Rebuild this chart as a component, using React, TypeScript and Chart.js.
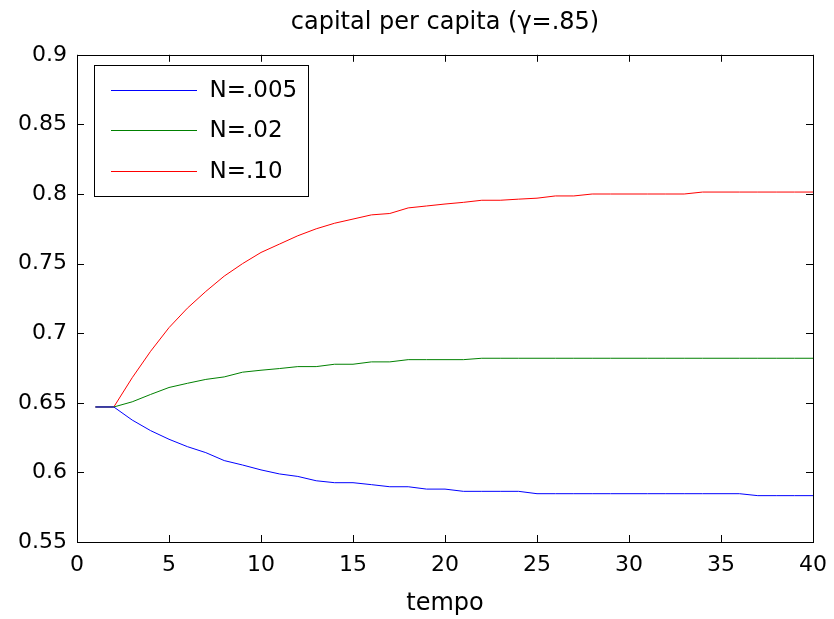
import React, { useEffect, useRef } from "react";
import { Chart, registerables } from "chart.js";

Chart.register(...registerables);

const tempo = [1, 2, 3, 4, 5, 6, 7, 8, 9, 10, 11, 12, 13, 14, 15, 16, 17, 18, 19, 20, 21, 22, 23, 24, 25, 26, 27, 28, 29, 30, 31, 32, 33, 34, 35, 36, 37, 38, 39, 40];

const seriesN005 = [0.647, 0.647, 0.6376, 0.630, 0.6238, 0.6185, 0.6142, 0.6085, 0.6053, 0.6018, 0.5989, 0.5971, 0.594, 0.5926, 0.5926, 0.5912, 0.5897, 0.5897, 0.588, 0.588, 0.5864, 0.5864, 0.5864, 0.5864, 0.5847, 0.5847, 0.5847, 0.5847, 0.5847, 0.5847, 0.5847, 0.5847, 0.5847, 0.5847, 0.5847, 0.5847, 0.5833, 0.5833, 0.5833, 0.5833];

const seriesN02 = [0.647, 0.647, 0.6507, 0.656, 0.661, 0.664, 0.6668, 0.6686, 0.672, 0.6734, 0.6746, 0.676, 0.676, 0.6777, 0.6777, 0.6794, 0.6794, 0.681, 0.681, 0.681, 0.681, 0.682, 0.682, 0.682, 0.682, 0.682, 0.682, 0.682, 0.682, 0.682, 0.682, 0.682, 0.682, 0.682, 0.682, 0.682, 0.682, 0.682, 0.682, 0.682];

const seriesN10 = [0.647, 0.647, 0.668, 0.687, 0.704, 0.718, 0.730, 0.741, 0.750, 0.758, 0.764, 0.770, 0.775, 0.779, 0.782, 0.785, 0.786, 0.790, 0.7914, 0.7928, 0.794, 0.7955, 0.7955, 0.7963, 0.797, 0.7986, 0.7986, 0.800, 0.800, 0.800, 0.800, 0.800, 0.800, 0.8014, 0.8014, 0.8014, 0.8014, 0.8014, 0.8014, 0.8014];

const seriesLabels = ["N=.005", "N=.02", "N=.10"];
const seriesColors = ["#0000ff", "#008000", "#ff0000"];

const xTicks = [0, 5, 10, 15, 20, 25, 30, 35, 40];
const yTicks = [0.55, 0.6, 0.65, 0.7, 0.75, 0.8, 0.85, 0.9];

const titleText = "capital per capita (\u03b3=.85)";
const xTitle = "tempo";

const FONT = "'DejaVu Sans', sans-serif";

const framePlugin = {
  id: "matlabFrame",
  afterDatasetsDraw(chart: any) {
    const { ctx, chartArea } = chart;
    const { left, right, top, bottom } = chartArea;
    const xs = chart.scales.x;
    const ys = chart.scales.y;
    const tl = 7;
    ctx.save();
    ctx.strokeStyle = "#000";
    ctx.lineWidth = 1;
    ctx.beginPath();
    for (const v of xTicks) {
      const px = Math.round(xs.getPixelForValue(v)) + 0.5;
      ctx.moveTo(px, bottom);
      ctx.lineTo(px, bottom - tl);
      ctx.moveTo(px, top);
      ctx.lineTo(px, top + tl);
    }
    for (const v of yTicks) {
      const py = Math.round(ys.getPixelForValue(v)) + 0.5;
      ctx.moveTo(left, py);
      ctx.lineTo(left + tl, py);
      ctx.moveTo(right, py);
      ctx.lineTo(right - tl, py);
    }
    ctx.stroke();
    ctx.strokeRect(Math.round(left) + 0.5, Math.round(top) + 0.5, Math.round(right - left), Math.round(bottom - top));

    // legend box
    const bx = Math.round(left) + 17.5;
    const by = Math.round(top) + 10.5;
    const bw = 214;
    const bh = 131;
    ctx.fillStyle = "#fff";
    ctx.fillRect(bx, by, bw, bh);
    ctx.strokeRect(bx, by, bw, bh);
    ctx.font = "23px " + FONT;
    ctx.textBaseline = "middle";
    ctx.textAlign = "left";
    const rows = [24.3, 64.3, 105];
    chart.data.datasets.forEach((ds: any, i: number) => {
      const ry = Math.round(by + rows[i]) + 0.5;
      ctx.strokeStyle = ds.borderColor;
      ctx.beginPath();
      ctx.moveTo(bx + 16.5, ry);
      ctx.lineTo(bx + 102.5, ry);
      ctx.stroke();
      ctx.fillStyle = "#000";
      ctx.fillText(ds.label, bx + 115, ry + 1);
    });
    ctx.restore();
  },
};

export default function App() {
  const ref = useRef<HTMLCanvasElement | null>(null);

  useEffect(() => {
    document.body.style.margin = "0";
    const canvas = ref.current;
    if (!canvas) return;
    const datasets = [seriesN005, seriesN02, seriesN10].map((s, i) => ({
      label: seriesLabels[i],
      data: tempo.map((t, j) => ({ x: t, y: s[j] })),
      borderColor: seriesColors[i],
      backgroundColor: seriesColors[i],
      borderWidth: 1,
      pointRadius: 0,
      tension: 0,
      fill: false,
    }));
    const chart = new Chart(canvas, {
      type: "line",
      data: { datasets },
      plugins: [framePlugin],
      options: {
        responsive: false,
        animation: false,
        devicePixelRatio: 1,
        layout: { padding: { left: 0, right: 21, top: 0, bottom: 0 } },
        plugins: {
          legend: { display: false },
          tooltip: { enabled: false },
          title: {
            display: true,
            fullSize: false,
            text: titleText,
            color: "#000",
            font: { family: FONT, size: 24, weight: "normal" },
            padding: { top: 8, bottom: 18 },
          },
        },
        scales: {
          x: {
            type: "linear",
            min: 0,
            max: 40,
            grid: { display: false, drawTicks: false },
            border: { display: false },
            afterBuildTicks: (scale: any) => {
              scale.ticks = xTicks.map((v) => ({ value: v }));
            },
            afterFit: (scale: any) => {
              scale.height = 77;
              scale.paddingLeft = 0;
              scale.paddingRight = 0;
            },
            ticks: {
              color: "#000",
              font: { family: FONT, size: 22 },
              padding: 10,
              maxRotation: 0,
              callback: (v: any) => String(v),
            },
            title: {
              display: true,
              text: xTitle,
              color: "#000",
              font: { family: FONT, size: 24 },
              padding: { top: 0, bottom: 1 },
            },
          },
          y: {
            type: "linear",
            min: 0.55,
            max: 0.9,
            grid: { display: false, drawTicks: false },
            border: { display: false },
            afterBuildTicks: (scale: any) => {
              scale.ticks = yTicks.map((v) => ({ value: v }));
            },
            afterFit: (scale: any) => {
              scale.width = 77;
              scale.paddingTop = 0;
              scale.paddingBottom = 0;
            },
            ticks: {
              color: "#000",
              font: { family: FONT, size: 22 },
              padding: 10,
              callback: (v: any) => String(Number(Number(v).toFixed(2))),
            },
          },
        },
      },
    } as any);
    return () => chart.destroy();
  }, []);

  return (
    <div style={{ width: 834, height: 619, background: "#fff" }}>
      <canvas ref={ref} width={834} height={619} />
    </div>
  );
}
